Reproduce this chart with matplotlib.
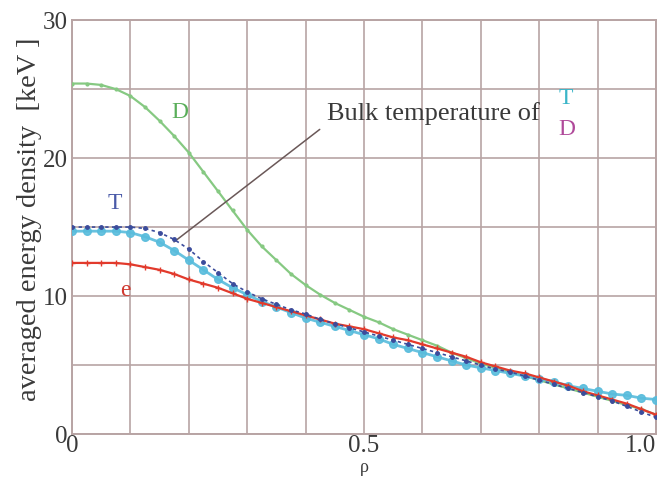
import numpy as np
import matplotlib
matplotlib.use("Agg")
import matplotlib.pyplot as plt

plt.rcParams['font.family'] = ['Liberation Serif', 'DejaVu Serif']

# radial coordinate rho, step 0.025
rho = np.arange(41) * 0.025

# D (green)
d_vals = [25.4, 25.4, 25.3, 25.0, 24.5, 23.7, 22.7, 21.6, 20.4, 19.0,
          17.6, 16.2, 14.8, 13.6, 12.6, 11.6, 10.8, 10.1, 9.5, 9.0,
          8.5, 8.1, 7.6, 7.2, 6.8, 6.4, 5.9, 5.5, 5.1, 4.8,
          4.5, 4.2, 3.9, 3.6, 3.3, 3.0, 2.7, 2.4, 2.1, 1.8, 1.4]
# e (red)
e_vals = [12.4, 12.4, 12.4, 12.4, 12.3, 12.1, 11.9, 11.6, 11.2, 10.9,
          10.6, 10.2, 9.8, 9.5, 9.2, 8.9, 8.6, 8.3, 8.0, 7.8,
          7.6, 7.3, 7.0, 6.8, 6.5, 6.2, 5.9, 5.6, 5.2, 4.9,
          4.6, 4.4, 4.1, 3.8, 3.5, 3.1, 2.8, 2.5, 2.2, 1.8, 1.4]
# T (dark blue)
t_vals = [15.0, 15.0, 15.0, 15.0, 15.0, 14.9, 14.6, 14.1, 13.4, 12.5,
          11.7, 10.9, 10.3, 9.8, 9.4, 9.0, 8.7, 8.3, 8.0, 7.7,
          7.4, 7.1, 6.8, 6.5, 6.2, 5.9, 5.6, 5.3, 5.0, 4.7,
          4.5, 4.2, 3.9, 3.6, 3.3, 3.0, 2.7, 2.4, 2.0, 1.6, 1.2]
# bulk temperature (cyan)
bulk_vals = [14.7, 14.7, 14.7, 14.7, 14.6, 14.3, 13.9, 13.3, 12.6, 11.9,
             11.2, 10.6, 10.1, 9.6, 9.2, 8.8, 8.4, 8.1, 7.8, 7.5,
             7.2, 6.9, 6.5, 6.2, 5.9, 5.6, 5.3, 5.0, 4.8, 4.6,
             4.4, 4.2, 4.0, 3.8, 3.5, 3.3, 3.1, 2.9, 2.8, 2.6, 2.5]

x_ticks = ['0', '', '', '', '', '0.5', '', '', '', '', '1.0']
y_ticks = ['0', '', '10', '', '20', '', '30']

grid_col = '#b8a4a4'
text_col = '#3a3a3a'

fig = plt.figure(figsize=(6.6, 4.78), dpi=100)
ax = fig.add_axes([0.109, 0.092, 0.885, 0.866])

ax.plot(rho, d_vals, color='#86c982', lw=1.6, marker='o', ms=2, zorder=3)
ax.plot(rho, bulk_vals, color='#58bcdc', lw=2.0, marker='o', ms=5.5,
        alpha=0.9, zorder=4)
ax.plot(rho, e_vals, color='#e23a2c', lw=1.6, marker='+', ms=4, mew=1, zorder=5)
ax.plot(rho, t_vals, color='#3b4c9c', lw=1.2, ls=(0, (2, 2)), marker='o',
        ms=2.5, zorder=6)

ax.set_xlim(0, 1.0)
ax.set_ylim(0, 30)
ax.set_xticks(np.arange(0, 1.01, 0.1))
ax.set_yticks(np.arange(0, 31, 5))
ax.set_xticklabels(x_ticks)
ax.set_yticklabels(y_ticks)
ax.tick_params(length=0, labelsize=18, colors=text_col, pad=3)
ax.tick_params(axis='x', pad=1)
ax.get_xticklabels()[-1].set_horizontalalignment('right')
ax.grid(True, color=grid_col, lw=1.2)
for s in ax.spines.values():
    s.set_color(grid_col)
    s.set_linewidth(1.4)

ax.set_xlabel('ρ', fontsize=13, color=text_col)
ax.xaxis.set_label_coords(0.5, -0.06)
ax.xaxis.label.set_va('top')
ax.set_ylabel('averaged energy density  [keV ]', fontsize=20.5, color=text_col)
ax.yaxis.set_label_coords(-0.052, 0.52)

ax.text(0.185, 23.3, 'D', color='#5aae5a', fontsize=17, ha='center', va='center')
ax.text(0.074, 16.7, 'T', color='#4a5aa8', fontsize=17, ha='center', va='center')
ax.text(0.092, 10.4, 'e', color='#d03a30', fontsize=17, ha='center', va='center')

ax.annotate('', xy=(0.171, 13.8), xytext=(0.428, 22.2),
            arrowprops=dict(arrowstyle='-', color='#6a5858', lw=1.1))
ax.text(0.437, 23.2, 'Bulk temperature of', color=text_col, fontsize=19,
        ha='left', va='center')
ax.text(0.845, 24.3, 'T', color='#3ab5c8', fontsize=17, ha='center', va='center')
ax.text(0.848, 22.1, 'D', color='#b04a9a', fontsize=17, ha='center', va='center')

fig.savefig('out.png', dpi=100)
